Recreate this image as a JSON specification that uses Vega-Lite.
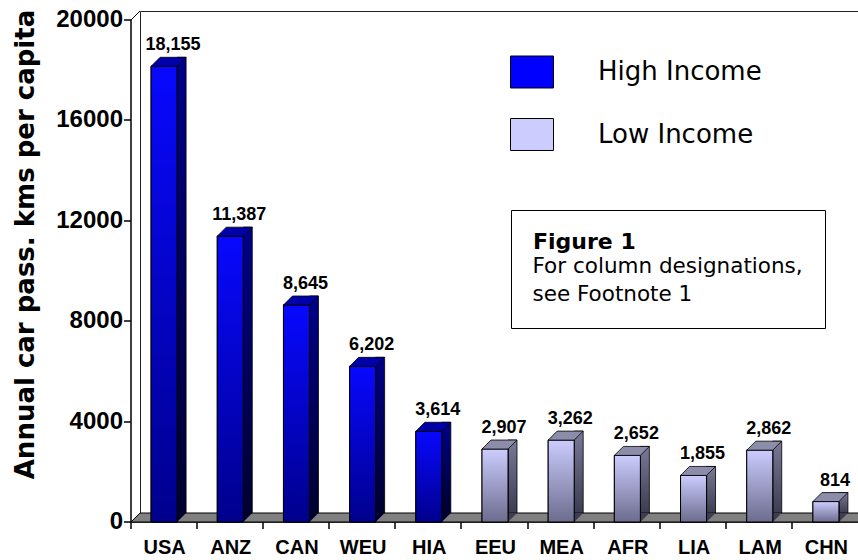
{
  "$schema": "https://vega.github.io/schema/vega-lite/v6.json",
  "width": 718,
  "height": 502,
  "autosize": {"type": "none"},
  "padding": {"left": 140, "top": 11, "right": 0, "bottom": 47},
  "background": "white",
  "config": {
    "view": {"stroke": "#222222", "strokeWidth": 1},
    "axis": {"domainColor": "#000000", "tickColor": "#000000", "labelColor": "#000000", "titleColor": "#000000", "grid": false}
  },
  "datasets": {
    "bars": [
      {"region": "USA", "value": 18155, "grp": "High Income"},
      {"region": "ANZ", "value": 11387, "grp": "High Income"},
      {"region": "CAN", "value": 8645, "grp": "High Income"},
      {"region": "WEU", "value": 6202, "grp": "High Income"},
      {"region": "HIA", "value": 3614, "grp": "High Income"},
      {"region": "EEU", "value": 2907, "grp": "Low Income"},
      {"region": "MEA", "value": 3262, "grp": "Low Income"},
      {"region": "AFR", "value": 2652, "grp": "Low Income"},
      {"region": "LIA", "value": 1855, "grp": "Low Income"},
      {"region": "LAM", "value": 2862, "grp": "Low Income"},
      {"region": "CHN", "value": 814, "grp": "Low Income"}
    ],
    "notes": [
      {"note": "For column designations,"},
      {"note": "see Footnote 1"}
    ],
    "frame": [{"region": "USA", "v": 0, "top": 20000}]
  },
  "resolve": {"scale": {"shape": "independent"}},
  "layer": [
    {
      "data": {"name": "frame"},
      "mark": {"type": "point", "filled": true, "fill": "#808080", "stroke": "#000000", "strokeWidth": 1, "opacity": 1, "shape": "M-4.21,0.9L-3.31,0L75,0L75,0.9Z", "size": 400},
      "encoding": {
        "x": {"field": "region", "type": "nominal", "sort": null},
        "y": {"field": "v", "type": "quantitative"}
      }
    },
    {
      "data": {"name": "frame"},
      "mark": {"type": "point", "filled": false, "stroke": "#000000", "strokeWidth": 1, "opacity": 1, "shape": "M-4.21,0.9L-3.31,0", "size": 400},
      "encoding": {
        "x": {"field": "region", "type": "nominal", "sort": null},
        "y": {"field": "top", "type": "quantitative"}
      }
    },
    {
      "data": {"name": "bars"},
      "mark": {"type": "bar", "width": 9, "xOffset": 8.5, "stroke": "#000000", "strokeWidth": 0.8},
      "encoding": {
        "x": {"field": "region", "type": "nominal", "sort": null},
        "y": {"field": "value", "type": "quantitative"},
        "y2": {"datum": 0},
        "fill": {
          "condition": {"test": "datum.grp === 'High Income'", "value": {"gradient": "linear", "x1": 0, "y1": 0, "x2": 0, "y2": 1, "stops": [{"offset": 0, "color": "#000088"}, {"offset": 1, "color": "#000030"}]}},
          "value": {"gradient": "linear", "x1": 0, "y1": 0, "x2": 0, "y2": 1, "stops": [{"offset": 0, "color": "#7a7a98"}, {"offset": 1, "color": "#3c3c52"}]}
        }
      }
    },
    {
      "data": {"name": "bars"},
      "mark": {"type": "point", "filled": true, "opacity": 1, "strokeWidth": 0, "shape": "M0.4,0L1.3,0L0.4,0.9Z", "size": 400},
      "encoding": {
        "x": {"field": "region", "type": "nominal", "sort": null},
        "y": {"datum": 0},
        "fill": {"condition": {"test": "datum.grp === 'High Income'", "value": "#000030"}, "value": "#3c3c52"}
      }
    },
    {
      "data": {"name": "bars"},
      "mark": {"type": "bar", "width": 26, "xOffset": -9, "yOffset": 9, "y2Offset": 9, "stroke": "#000000", "strokeWidth": 1},
      "encoding": {
        "x": {
          "field": "region", "type": "nominal", "sort": null,
          "scale": {"domain": ["USA", "ANZ", "CAN", "WEU", "HIA", "EEU", "MEA", "AFR", "LIA", "LAM", "CHN"], "range": [0, 728], "paddingInner": 0, "paddingOuter": 0},
          "axis": {
            "title": null, "orient": "bottom", "offset": 18, "translate": -9, "bandPosition": 0,
            "labelOffset": 1, "labelAngle": 0, "labelAlign": "center", "labelBaseline": "top",
            "labelPadding": 9, "tickSize": 7, "tickWidth": 1.5, "domainWidth": 1.5,
            "labelFont": "Liberation Sans", "labelFontWeight": "bold", "labelFontSize": 20
          }
        },
        "y": {
          "field": "value", "type": "quantitative",
          "scale": {"domain": [0, 20000], "nice": false},
          "axis": {
            "orient": "left", "offset": 18, "translate": 9,
            "values": [0, 4000, 8000, 12000, 16000, 20000], "format": "d",
            "tickSize": 7, "tickWidth": 1.5, "domainWidth": 1.5, "labelPadding": 1,
            "labelFont": "Liberation Sans", "labelFontWeight": "bold", "labelFontSize": 24,
            "title": "Annual car pass. kms per capita",
            "titleFont": "DejaVu Sans", "titleFontWeight": "bold", "titleFontSize": 26,
            "titleAngle": 270, "titleX": -97.5, "titleY": 224.5, "titleAlign": "center", "titleBaseline": "alphabetic"
          }
        },
        "y2": {"datum": 0},
        "color": {
          "field": "grp", "type": "nominal",
          "scale": {"domain": ["High Income", "Low Income"], "range": ["#0000ff", "#ccccff"]},
          "legend": {
            "orient": "none", "legendX": 370, "legendY": 39, "title": null, "padding": 0,
            "symbolType": "M-1,-0.744H1V0.744H-1Z", "symbolSize": 1849,
            "symbolStrokeColor": "#000000", "symbolStrokeWidth": 1, "symbolOpacity": 1,
            "labelFont": "DejaVu Sans", "labelFontSize": 26, "labelColor": "#000000",
            "labelOffset": 44, "rowPadding": 22.5, "labelLimit": 300
          }
        }
      }
    },
    {
      "data": {"name": "bars"},
      "mark": {"type": "bar", "width": 26, "xOffset": -9, "yOffset": 9, "y2Offset": 9, "stroke": "#000000", "strokeWidth": 1},
      "encoding": {
        "x": {"field": "region", "type": "nominal", "sort": null},
        "y": {"field": "value", "type": "quantitative"},
        "y2": {"datum": 0},
        "fill": {
          "condition": {"test": "datum.grp === 'High Income'", "value": {"gradient": "linear", "x1": 0, "y1": 0, "x2": 0, "y2": 1, "stops": [{"offset": 0, "color": "#0808ff"}, {"offset": 1, "color": "#00008c"}]}},
          "value": {"gradient": "linear", "x1": 0, "y1": 0, "x2": 0, "y2": 1, "stops": [{"offset": 0, "color": "#ccccff"}, {"offset": 1, "color": "#6c6c8e"}]}
        }
      }
    },
    {
      "data": {"name": "bars"},
      "mark": {"type": "point", "filled": true, "opacity": 1, "stroke": "#000000", "strokeWidth": 0.8, "shape": "M-2.2,0.9L0.4,0.9L1.3,0L-1.3,0Z", "size": 400},
      "encoding": {
        "x": {"field": "region", "type": "nominal", "sort": null},
        "y": {"field": "value", "type": "quantitative"},
        "fill": {"condition": {"test": "datum.grp === 'High Income'", "value": "#0000a8"}, "value": "#8c8cab"}
      }
    },
    {
      "data": {"name": "bars"},
      "mark": {"type": "text", "dy": -7, "align": "center", "baseline": "alphabetic", "font": "Liberation Sans", "fontWeight": "bold", "fontSize": 18, "color": "#000000"},
      "encoding": {
        "x": {"field": "region", "type": "nominal", "sort": null},
        "y": {"field": "value", "type": "quantitative"},
        "text": {"field": "value", "type": "quantitative", "format": ",d"}
      }
    },
    {
      "data": {"name": "notes"},
      "mark": {"type": "point", "opacity": 0, "size": 0},
      "encoding": {
        "shape": {
          "field": "note", "type": "nominal", "sort": null,
          "scale": {"range": ["circle", "circle"]},
          "legend": {
            "orient": "none", "legendX": 371, "legendY": 199,
            "title": "Figure 1", "titleFont": "DejaVu Sans", "titleFontWeight": "bold", "titleFontSize": 22, "titleColor": "#000000", "titlePadding": 2,
            "labelFont": "DejaVu Sans", "labelFontSize": 21.5, "labelColor": "#000000", "labelOffset": -22, "labelLimit": 400,
            "symbolType": "circle", "symbolSize": 1, "symbolOpacity": 0, "symbolStrokeWidth": 0, "rowPadding": 5,
            "padding": 22, "strokeColor": "#000000", "fillColor": "#ffffff"
          }
        }
      }
    }
  ]
}
